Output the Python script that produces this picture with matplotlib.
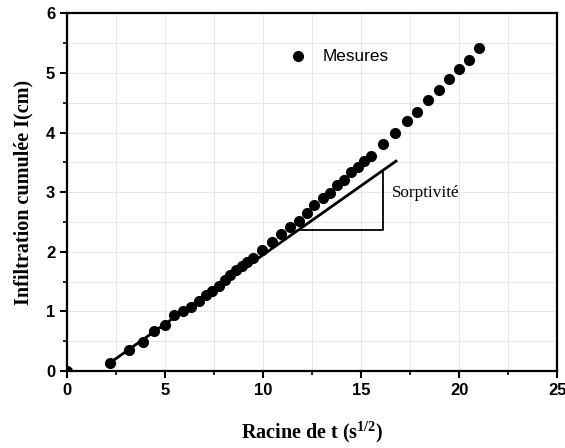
import numpy as np
import matplotlib
matplotlib.use("Agg")
import matplotlib.pyplot as plt
from matplotlib.ticker import MultipleLocator

plt.rcParams["mathtext.fontset"] = "custom"
plt.rcParams["mathtext.rm"] = "Liberation Serif:bold"
plt.rcParams["mathtext.it"] = "Liberation Serif:bold"
plt.rcParams["mathtext.bf"] = "Liberation Serif:bold"

# Mesures : racine de t (s^1/2) et infiltration cumulée (cm)
racine_t = [0.0, 2.21, 3.15, 3.85, 4.46, 4.97, 5.46, 5.90, 6.31, 6.72, 7.06,
            7.40, 7.74, 8.03, 8.30, 8.61, 8.90, 9.18, 9.46, 9.95, 10.44,
            10.92, 11.36, 11.81, 12.21, 12.61, 13.03, 13.40, 13.78, 14.12,
            14.47, 14.82, 15.15, 15.48, 16.11, 16.72, 17.32, 17.86, 18.40,
            18.96, 19.49, 19.98, 20.48, 20.99]
infiltration = [0.0, 0.14, 0.35, 0.49, 0.67, 0.77, 0.94, 1.00, 1.08, 1.17, 1.28,
                1.35, 1.43, 1.53, 1.61, 1.69, 1.76, 1.83, 1.89, 2.03, 2.16,
                2.30, 2.41, 2.52, 2.65, 2.79, 2.90, 2.98, 3.12, 3.20,
                3.33, 3.43, 3.53, 3.61, 3.80, 4.00, 4.19, 4.35, 4.55,
                4.71, 4.89, 5.07, 5.21, 5.41]

# droite de sorptivité et triangle de pente
fit_x = [2.03, 16.77]
fit_y = [0.10, 3.52]
tri_x = [11.8, 16.11, 16.11]
tri_y = [2.366, 2.366, 3.33]

fig = plt.figure(figsize=(5.65, 4.48), dpi=100)
ax = fig.add_axes([0.1186, 0.1719, 0.868, 0.7984])

ax.plot(racine_t, infiltration, "o", color="black", ms=7, zorder=3)
ax.plot(fit_x, fit_y, color="black", lw=2, zorder=2)
ax.plot(tri_x, tri_y, color="black", lw=1.3, zorder=2)

ax.text(16.55, 2.99, "Sorptivité", family="Liberation Serif", fontsize=12.3,
        va="center", ha="left")
ax.plot([11.8], [5.28], "o", color="black", ms=7)
ax.text(13.05, 5.28, "Mesures", family="Liberation Sans", fontsize=12.3,
        va="center", ha="left")

ax.set_xlim(0, 25)
ax.set_ylim(0, 6)
ax.xaxis.set_major_locator(MultipleLocator(5))
ax.xaxis.set_minor_locator(MultipleLocator(2.5))
ax.yaxis.set_major_locator(MultipleLocator(1))
ax.yaxis.set_minor_locator(MultipleLocator(0.5))
ax.grid(True, which="both", color="#e6e6e6", lw=0.7, zorder=0)
ax.set_axisbelow(True)

ax.tick_params(which="major", direction="out", length=5, width=1.5)
ax.tick_params(which="minor", direction="out", length=3, width=1.2)
for side in ["left", "bottom", "top", "right"]:
    ax.spines[side].set_linewidth(1.6)
for lab in ax.get_xticklabels() + ax.get_yticklabels():
    lab.set_family("Liberation Sans")
    lab.set_fontweight("bold")
    lab.set_fontsize(12)

ax.set_xlabel("Racine de t (s$^{1/2}$)", family="Liberation Serif",
              fontweight="bold", fontsize=14.5, labelpad=16)
ax.set_ylabel("Infiltration cumulée I(cm)", family="Liberation Serif",
              fontweight="bold", fontsize=14.5, labelpad=9)

plt.savefig("out.png", dpi=100)
